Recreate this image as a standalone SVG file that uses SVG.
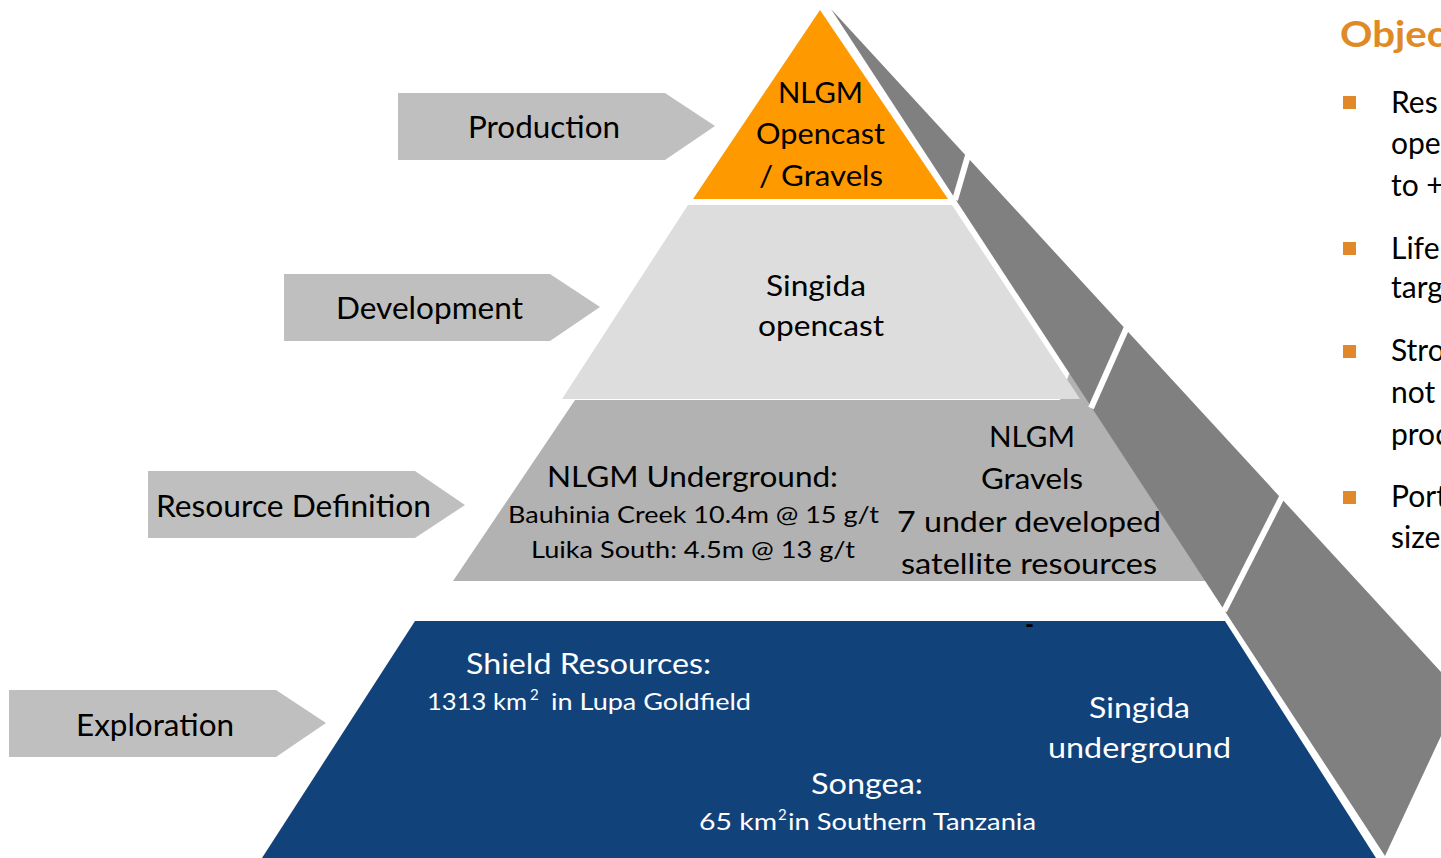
<svg xmlns="http://www.w3.org/2000/svg" width="1441" height="858" viewBox="0 0 1441 858">
  <style>
    .t{font-family:Lato,"Open Sans","Liberation Sans",sans-serif;fill:#000}
    .w{fill:#fff}
    .arrow{fill:#bfbfbf}
    .gap{stroke:#fff;stroke-width:6;fill:none}
    .big{font-size:28px}
    .lab{font-size:30px}
    .sm{font-size:24px}
    .sup{font-size:15px}
    .obj{font-size:30px}
  </style>
  <rect width="1441" height="858" fill="#fff"/>

  <!-- resource definition tier sits under the development tier -->
  <g id="layer-resource-definition">
    <polygon points="575,400 1060,400 1069,374 1072,374 1206,581 453,581" fill="#b2b2b2"/>
  </g>

  <!-- shaded right face of the pyramid, split per tier -->
  <g id="side-face">
    <polygon points="831,9 1441,672 1441,736 1385,856" fill="#808080"/>
    <line class="gap" x1="955" y1="200" x2="969" y2="152"/>
    <line class="gap" x1="1091" y1="408" x2="1127" y2="327"/>
    <line class="gap" x1="1224" y1="611" x2="1284" y2="493"/>
  </g>

  <g id="layer-resource-definition-text">
    <text class="t big" x="547" y="487" textLength="291" lengthAdjust="spacingAndGlyphs">NLGM Underground:</text>
    <text class="t sm" x="508" y="523" textLength="371" lengthAdjust="spacingAndGlyphs">Bauhinia Creek 10.4m @ 15 g/t</text>
    <text class="t sm" x="531" y="558" textLength="324" lengthAdjust="spacingAndGlyphs">Luika South: 4.5m @ 13 g/t</text>
    <text class="t big" x="989" y="447" textLength="86" lengthAdjust="spacingAndGlyphs">NLGM</text>
    <text class="t big" x="981" y="489" textLength="102" lengthAdjust="spacingAndGlyphs">Gravels</text>
    <text class="t big" x="897" y="532" textLength="264" lengthAdjust="spacingAndGlyphs">7 under developed</text>
    <text class="t big" x="901" y="574" textLength="256" lengthAdjust="spacingAndGlyphs">satellite resources</text>
  </g>

  <g id="layer-development">
    <polygon points="688,205 952,205 1080,399 562,399" fill="#dddddd"/>
    <text class="t big" x="766" y="296" textLength="100" lengthAdjust="spacingAndGlyphs">Singida</text>
    <text class="t big" x="758" y="336" textLength="126" lengthAdjust="spacingAndGlyphs">opencast</text>
  </g>

  <g id="layer-production">
    <polygon points="820,10 948,199 693,199" fill="#ff9900"/>
    <text class="t big" x="778" y="103" textLength="85" lengthAdjust="spacingAndGlyphs">NLGM</text>
    <text class="t big" x="756" y="144" textLength="129" lengthAdjust="spacingAndGlyphs">Opencast</text>
    <text class="t big" x="759" y="186" textLength="124" lengthAdjust="spacingAndGlyphs">/ Gravels</text>
  </g>

  <g id="layer-exploration">
    <polygon points="415,621 1225,621 1376,858 262,858" fill="#12427a"/>
    <text class="t w big" x="466" y="674" textLength="245" lengthAdjust="spacingAndGlyphs">Shield Resources:</text>
    <text class="t w" font-size="23" x="427" y="710" textLength="100" lengthAdjust="spacingAndGlyphs">1313 km</text>
    <text class="t w sup" x="530" y="700">2</text>
    <text class="t w" font-size="23" x="551" y="710" textLength="200" lengthAdjust="spacingAndGlyphs">in Lupa Goldfield</text>
    <text class="t w big" x="1089" y="718" textLength="101" lengthAdjust="spacingAndGlyphs">Singida</text>
    <text class="t w big" x="1048" y="758" textLength="183" lengthAdjust="spacingAndGlyphs">underground</text>
    <text class="t w big" x="811" y="794" textLength="112" lengthAdjust="spacingAndGlyphs">Songea:</text>
    <text class="t w" font-size="23" x="699" y="830" textLength="78" lengthAdjust="spacingAndGlyphs">65 km</text>
    <text class="t w sup" x="778" y="820">2</text>
    <text class="t w" font-size="23" x="788" y="830" textLength="248" lengthAdjust="spacingAndGlyphs">in Southern Tanzania</text>
    <text class="t" font-size="26" font-weight="bold" x="1025" y="634" textLength="9" lengthAdjust="spacingAndGlyphs">-</text>
  </g>

  <!-- stage labels pointing at each tier -->
  <g id="arrow-production">
    <polygon class="arrow" points="398,93 665,93 715,126 665,160 398,160"/>
    <text class="t lab" x="468" y="138" textLength="152" lengthAdjust="spacingAndGlyphs">Production</text>
  </g>
  <g id="arrow-development">
    <polygon class="arrow" points="284,274 550,274 600,307 550,341 284,341"/>
    <text class="t lab" x="336" y="319" textLength="187" lengthAdjust="spacingAndGlyphs">Development</text>
  </g>
  <g id="arrow-resource-definition">
    <polygon class="arrow" points="148,471 415,471 465,505 415,538 148,538"/>
    <text class="t lab" x="156" y="517" textLength="275" lengthAdjust="spacingAndGlyphs">Resource Definition</text>
  </g>
  <g id="arrow-exploration">
    <polygon class="arrow" points="9,690 276,690 326,723 276,757 9,757"/>
    <text class="t lab" x="76" y="736" textLength="158" lengthAdjust="spacingAndGlyphs">Exploration</text>
  </g>

  <g id="connectors"/>

  <!-- objectives column, cut by the right edge -->
  <g id="objectives">
    <text x="1340" y="47" font-family="Lato,'Open Sans',sans-serif" font-weight="bold" font-size="36" fill="#e08a26" textLength="106" lengthAdjust="spacingAndGlyphs">Objec</text>
    <g fill="#e0882a">
      <rect x="1343" y="96" width="13" height="13"/>
      <rect x="1343" y="242" width="13" height="13"/>
      <rect x="1343" y="345" width="13" height="13"/>
      <rect x="1343" y="491" width="13" height="13"/>
    </g>
    <text class="t obj" x="1391" y="113">Res</text>
    <text class="t obj" x="1391" y="154">ope</text>
    <text class="t obj" x="1391" y="196">to +</text>
    <text class="t obj" x="1391" y="259">Life</text>
    <text class="t obj" x="1391" y="298">targ</text>
    <text class="t obj" x="1391" y="361">Stro</text>
    <text class="t obj" x="1391" y="403">not</text>
    <text class="t obj" x="1391" y="445">proc</text>
    <text class="t obj" x="1391" y="507">Port</text>
    <text class="t obj" x="1391" y="548">size</text>
  </g>
</svg>
